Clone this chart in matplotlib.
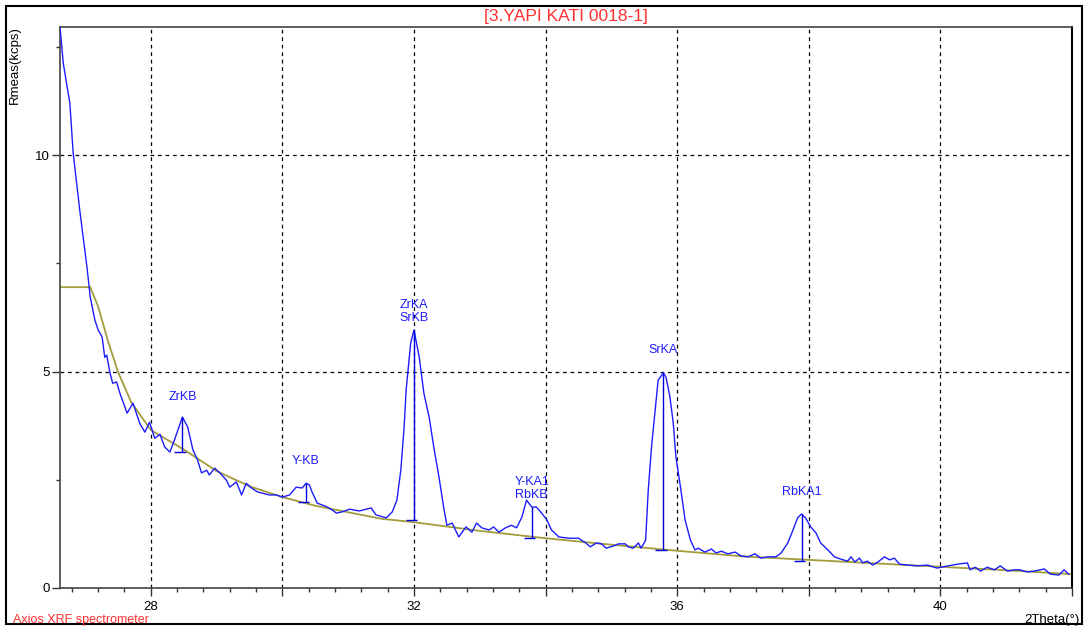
import numpy as np
import matplotlib
matplotlib.use("Agg")
import matplotlib.pyplot as plt
from matplotlib.patches import Rectangle
from matplotlib.ticker import MultipleLocator, FuncFormatter

plt.rcParams['font.family'] = ['Liberation Sans', 'DejaVu Sans']

# espectro medido (2theta, kcps)
x_meas = [26.62, 26.67, 26.77, 26.82, 26.92, 27.03, 27.08, 27.15, 27.20, 27.26,
          27.30, 27.33, 27.38, 27.42, 27.48, 27.53, 27.64, 27.73, 27.83, 27.91,
          27.98, 28.06, 28.14, 28.21, 28.29, 28.36, 28.48, 28.56, 28.64, 28.71,
          28.77, 28.85, 28.89, 28.97, 29.05, 29.15, 29.20, 29.30, 29.38, 29.45,
          29.53, 29.62, 29.70, 29.80, 29.91, 30.00, 30.11, 30.21, 30.30, 30.36,
          30.41, 30.45, 30.53, 30.67, 30.76, 30.82, 30.91, 31.02, 31.17, 31.35,
          31.42, 31.58, 31.67, 31.74, 31.80, 31.85, 31.88, 31.95, 32.00, 32.08,
          32.15, 32.23, 32.30, 32.38, 32.45, 32.50, 32.58, 32.68, 32.79, 32.88,
          32.95, 33.03, 33.14, 33.21, 33.29, 33.39, 33.48, 33.56, 33.64, 33.71,
          33.79, 33.86, 33.94, 34.02, 34.09, 34.20, 34.35, 34.50, 34.61, 34.68,
          34.77, 34.85, 34.92, 35.03, 35.11, 35.21, 35.26, 35.33, 35.41, 35.45,
          35.52, 35.56, 35.61, 35.67, 35.71, 35.79, 35.83, 35.89, 35.94, 35.98,
          36.05, 36.12, 36.20, 36.27, 36.32, 36.42, 36.52, 36.59, 36.67, 36.77,
          36.88, 36.97, 37.08, 37.18, 37.27, 37.38, 37.50, 37.58, 37.68, 37.76,
          37.83, 37.89, 37.95, 38.03, 38.11, 38.18, 38.29, 38.39, 38.48, 38.59,
          38.64, 38.70, 38.77, 38.82, 38.89, 38.97, 39.05, 39.15, 39.23, 39.30,
          39.38, 39.50, 39.65, 39.80, 39.95, 40.11, 40.26, 40.41, 40.45, 40.53,
          40.61, 40.71, 40.82, 40.91, 41.02, 41.12, 41.21, 41.32, 41.42, 41.58,
          41.67, 41.80, 41.88, 41.95]
y_meas = [12.96, 12.12, 11.20, 10.05, 8.73, 7.41, 6.72, 6.19, 5.96, 5.80,
          5.33, 5.38, 4.97, 4.73, 4.76, 4.50, 4.04, 4.27, 3.81, 3.60,
          3.83, 3.46, 3.55, 3.26, 3.14, 3.42, 3.95, 3.72, 3.19, 2.96,
          2.66, 2.72, 2.61, 2.77, 2.66, 2.49, 2.33, 2.45, 2.15, 2.42,
          2.31, 2.22, 2.19, 2.15, 2.15, 2.10, 2.15, 2.33, 2.31, 2.42,
          2.38, 2.22, 1.96, 1.88, 1.80, 1.73, 1.76, 1.82, 1.78, 1.85,
          1.69, 1.62, 1.76, 2.03, 2.73, 3.72, 4.57, 5.66, 5.96, 5.33,
          4.50, 3.95, 3.26, 2.56, 1.87, 1.45, 1.50, 1.18, 1.41, 1.29,
          1.50, 1.39, 1.34, 1.41, 1.29, 1.39, 1.45, 1.39, 1.64, 2.03,
          1.87, 1.87, 1.73, 1.57, 1.34, 1.18, 1.15, 1.15, 1.04, 0.95,
          1.04, 1.02, 0.92, 0.97, 1.02, 1.02, 0.95, 0.92, 1.04, 0.92,
          1.10, 2.26, 3.26, 4.18, 4.80, 4.97, 4.87, 4.41, 3.81, 3.03,
          2.33, 1.57, 1.11, 0.88, 0.92, 0.83, 0.90, 0.81, 0.85, 0.79,
          0.83, 0.74, 0.72, 0.79, 0.69, 0.72, 0.72, 0.81, 1.04, 1.34,
          1.62, 1.71, 1.62, 1.41, 1.27, 1.04, 0.88, 0.72, 0.67, 0.62,
          0.72, 0.60, 0.69, 0.58, 0.62, 0.53, 0.60, 0.72, 0.65, 0.69,
          0.55, 0.53, 0.51, 0.53, 0.46, 0.51, 0.55, 0.58, 0.42, 0.48,
          0.39, 0.48, 0.42, 0.51, 0.39, 0.42, 0.42, 0.37, 0.39, 0.44,
          0.32, 0.30, 0.42, 0.32]

# fondo (background)
x_bg = [26.62, 27.08, 27.20, 27.35, 27.50, 27.70, 28.00, 28.50, 29.00, 29.50,
        30.00, 30.50, 31.00, 31.50, 32.00, 33.00, 34.00, 35.00, 36.00, 37.00,
        38.00, 39.00, 40.00, 41.00, 42.00]
y_bg = [6.95, 6.95, 6.50, 5.70, 5.00, 4.30, 3.65, 3.20, 2.70, 2.35,
        2.10, 1.90, 1.75, 1.60, 1.52, 1.32, 1.15, 1.00, 0.86, 0.73,
        0.65, 0.57, 0.49, 0.41, 0.32]

# lineas identificadas
picos = ["ZrKB", "Y-KB", "ZrKA\nSrKB", "Y-KA1\nRbKB", "SrKA", "RbKA1"]
pico_x = [28.48, 30.36, 32.00, 33.79, 35.79, 37.89]
pico_top = [3.95, 2.42, 5.96, 1.87, 4.97, 1.71]
pico_base = [3.14, 1.99, 1.57, 1.15, 0.88, 0.62]
offset_txt = [14, 16, 6, 6, 17, 16]  # pixeles sobre el pico

AZUL = '#1c1cff'
OLIVA = '#a39c3c'
ROJO = '#ff3030'

fig = plt.figure(figsize=(10.87, 6.30), dpi=100)
ax = fig.add_axes([60/1087, 42/630, 1012/1087, 561/630])

ax.plot(x_bg, y_bg, color=OLIVA, lw=1.3, zorder=2)
ax.plot(x_meas, y_meas, color=AZUL, lw=1.0, zorder=3)

for nom, px, top, base, off in zip(picos, pico_x, pico_top, pico_base, offset_txt):
    ax.vlines(px, base, top, color='#0000e0', lw=1.0, zorder=4)
    ax.hlines(base, px - 0.12, px + 0.05, color='#0000e0', lw=1.0, zorder=4)
    ax.annotate(nom, (px, top), xytext=(0, off), textcoords='offset pixels',
                ha='center', va='bottom', color=AZUL, fontsize=9,
                linespacing=1.15)

ax.set_xlim(26.62, 42.0)
ax.set_ylim(0, 12.96)

ax.xaxis.set_major_locator(MultipleLocator(2))
ax.xaxis.set_minor_locator(MultipleLocator(0.4))
ax.yaxis.set_major_locator(MultipleLocator(5))
ax.yaxis.set_minor_locator(MultipleLocator(2.5))
ax.xaxis.set_major_formatter(FuncFormatter(lambda v, p: f"{v:.0f}" if round(v) % 4 == 0 else ""))
ax.yaxis.set_major_formatter(FuncFormatter(lambda v, p: f"{v:.0f}"))

ax.tick_params(which='major', length=6, width=1, color='#333333', labelsize=9.5, pad=3)
ax.tick_params(which='minor', length=3, width=1, color='#333333')
ax.tick_params(axis='y', which='major', pad=1)

ax.grid(True, which='major', color='black', linestyle=(0, (3, 3)), lw=0.9)
ax.set_axisbelow(True)

for s in ['left', 'bottom', 'top']:
    ax.spines[s].set_color('#444444')
    ax.spines[s].set_linewidth(1.2)
ax.spines['right'].set_color('black')
ax.spines['right'].set_linewidth(1.5)

fig.text(566/1087, 1 - 16/630, "[3.YAPI KATI 0018-1]", color=ROJO,
         fontsize=12.5, ha='center', va='center')
fig.text(15/1087, 1 - 65/630, "Rmeas(kcps)", rotation=90, fontsize=9.5,
         ha='center', va='center')
fig.text(13/1087, 1 - 620/630, "Axios XRF spectrometer", color=ROJO,
         fontsize=9, ha='left', va='center')
fig.text(1080/1087, 1 - 620/630, "2Theta(°)", fontsize=9.5,
         ha='right', va='center')

# marco exterior
fig.patches.append(Rectangle((6/1087, 6/630), 1076/1087, 618/630,
                             transform=fig.transFigure, fill=False,
                             edgecolor='black', lw=1.5))

fig.savefig("out.png", dpi=100)
